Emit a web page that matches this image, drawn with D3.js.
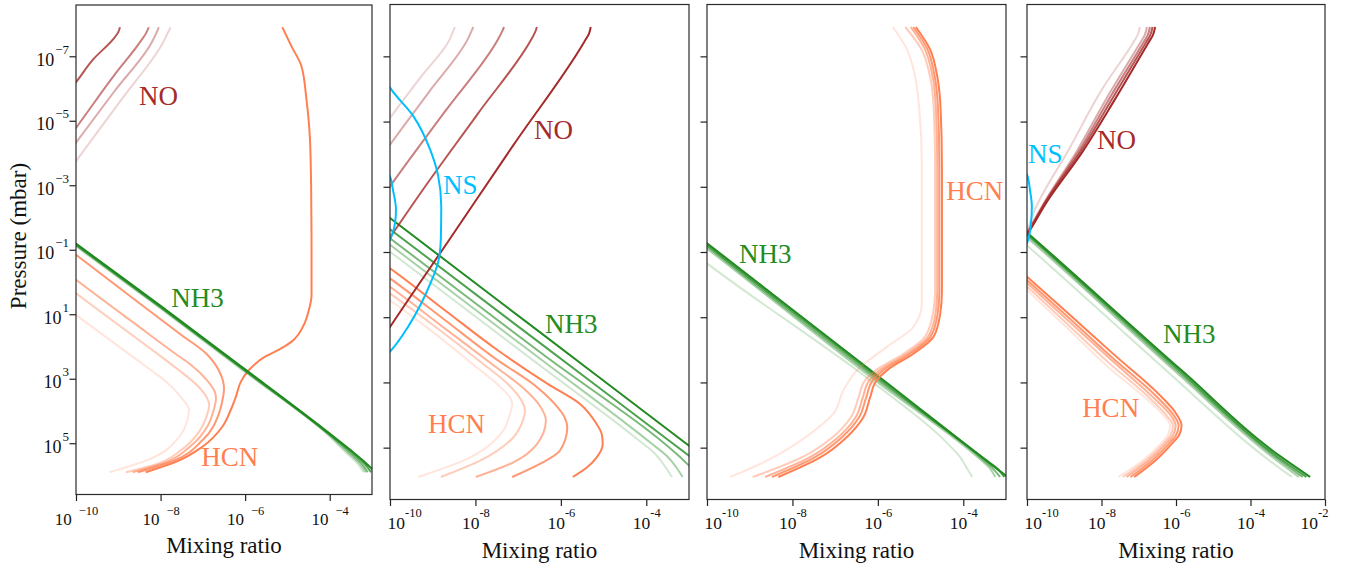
<!DOCTYPE html>
<html>
<head>
<meta charset="utf-8">
<script src="https://cdn.jsdelivr.net/npm/d3@7"></script>
<style>
    body { margin: 0; background: #fff; }
    svg { display: block; }
    text { font-family: "Liberation Serif", "Times New Roman", serif; }
</style>
</head>
<body>
<div id="chart"></div>
<script>
// every point is [log10 mixing ratio, log10 pressure in mbar]

var xTicksA = [1e-10, 1e-8, 1e-6, 1e-4];
var xTicksB = [1e-10, 1e-8, 1e-6, 1e-4, 1e-2];
var yTicks = [1e-7, 1e-5, 1e-3, 1e-1, 1e1, 1e3, 1e5];

var colors = { NO: "#a52a2a", HCN: "#ff7f50", NH3: "#228b22", NS: "#00bfff" };

// ---- panel 1
var p1NO = [
    [[-8.96,-7.9],[-9.0,-7.75],[-9.12,-7.53],[-9.59,-6.91],[-9.98,-6.23],[-10.5,-5.4]],
    [[-8.28,-7.9],[-8.33,-7.75],[-8.49,-7.43],[-9.05,-6.49],[-10,-4.78],[-10.5,-3.9]],
    [[-8.04,-7.9],[-8.09,-7.75],[-8.21,-7.43],[-9.1,-5.9],[-10,-4.32],[-10.5,-3.45]],
    [[-7.76,-7.9],[-7.82,-7.75],[-7.94,-7.43],[-8.9,-5.7],[-10,-3.75],[-10.5,-2.85]]
];
var p1NOAlpha = [0.8, 0.6, 0.4, 0.2];

var p1HCN = [
    [[-5.12,-7.9],[-4.9,-7.3],[-4.67,-6.7],[-4.55,-5.66],[-4.47,-4.5],[-4.44,-3],[-4.43,-1],[-4.43,0.4],
     [-4.5,0.9],[-4.62,1.35],[-4.9,1.85],[-5.2,2.1],[-5.51,2.3],[-5.91,2.73],[-6.1,3.09],[-6.22,3.56],
     [-6.34,3.97],[-6.54,4.49],[-7.01,5.11],[-7.64,5.58],[-8.35,5.9]],
    [[-10.4,-1.25],[-10,-0.845],[-8.5,0.66],[-7.5,1.65],[-6.93,2.21],[-6.6,2.8],[-6.5,3.3],[-6.55,3.75],[-6.62,4.08],[-7.01,4.91],[-7.7,5.55],[-8.54,5.9]],
    [[-10.4,-0.47],[-10,-0.07],[-8.6,1.3],[-7.6,2.27],[-7.3,2.55],[-6.9,3.05],[-6.72,3.4],[-6.69,3.6],[-6.75,4.0],[-6.88,4.45],[-7.3,5.1],[-7.9,5.6],[-8.66,5.9]],
    [[-10.4,-0.05],[-10,0.35],[-8.8,1.52],[-7.9,2.4],[-7.6,2.7],[-7.1,3.25],[-6.9,3.6],[-6.85,3.8],[-6.92,4.2],[-7.09,4.65],[-7.5,5.2],[-8.1,5.65],[-8.82,5.9]],
    [[-10.4,0.62],[-10,1.02],[-9,1.99],[-8.2,2.76],[-7.95,3.0],[-7.5,3.6],[-7.33,3.95],[-7.38,4.35],[-7.56,4.8],[-8.27,5.5],[-9.21,5.9]]
];
var p1HCNAlpha = [1, 0.8, 0.6, 0.4, 0.2];

var p1NH3 = [
    [[-10.4,-1.58],[-10,-1.19],[-8,0.74],[-6,2.71],[-4,4.7],[-3.5,5.22],[-3.2,5.55],[-2.95,5.86]],
    [[-10.4,-1.56],[-10,-1.17],[-8,0.76],[-6,2.73],[-4,4.72],[-3.5,5.25],[-3.2,5.6],[-3.02,5.9]],
    [[-10.4,-1.54],[-10,-1.15],[-8,0.78],[-6,2.75],[-4,4.74],[-3.55,5.25],[-3.25,5.62],[-3.1,5.9]],
    [[-10.4,-1.52],[-10,-1.13],[-8,0.8],[-6,2.77],[-4,4.76],[-3.6,5.25],[-3.3,5.62],[-3.15,5.9]],
    [[-10.4,-1.49],[-10,-1.1],[-8,0.83],[-6,2.8],[-4,4.79],[-3.65,5.25],[-3.35,5.62],[-3.2,5.9]]
];
var p1NH3Alpha = [1, 0.8, 0.6, 0.4, 0.2];

var p1Labels = [["NO", -8.51, -5.49], ["NH3", -7.75, 0.77], ["HCN", -7.04, 5.70]];

// ---- panel 2
var p2NO = [
    [[-5.30,-7.9],[-5.34,-7.7],[-5.45,-7.45],[-7.1,-4.3],[-8.6,-1.4],[-10,1.3],[-10.4,2.1]],
    [[-6.56,-7.9],[-6.6,-7.75],[-6.68,-7.55],[-7.95,-5.23],[-9.23,-2.91],[-10,-1.45],[-10.4,-0.7]],
    [[-7.33,-7.9],[-7.38,-7.75],[-7.46,-7.55],[-8.73,-5.28],[-10,-3.01],[-10.4,-2.25]],
    [[-8.05,-7.9],[-8.1,-7.75],[-8.17,-7.55],[-9.08,-5.92],[-10,-4.29],[-10.4,-3.55]],
    [[-8.48,-7.9],[-8.53,-7.75],[-8.59,-7.55],[-9.3,-6.33],[-10,-5.11],[-10.4,-4.35]]
];
var p2NOAlpha = [1, 0.8, 0.6, 0.4, 0.2];

var p2NS = [
    [[-10.15,-6.4],[-10,-6.04],[-9.45,-5.16],[-9.06,-4.14],[-8.87,-3.32],[-8.8,-2.4],[-8.81,-1.4],
     [-8.87,-0.7],[-9.05,-0.05],[-9.27,0.58],[-9.58,1.3],[-9.93,1.95],[-10.1,2.2]],
    [[-10.1,-3.55],[-10,-3.32],[-9.93,-2.9],[-9.86,-2.3],[-9.88,-1.9],[-10,-1.37],[-10.1,-1.15]]
];
var p2NSAlpha = [1, 1];

var p2NH3 = [
    [[-10.4,-2.44],[-10,-2.04],[-6.5,1.45],[-3,4.94],[-2.8,5.14]],
    [[-10.4,-2.1],[-10,-1.7],[-6.5,1.78],[-3,5.25],[-2.8,5.45]],
    [[-10.4,-1.82],[-10,-1.42],[-6.5,2.06],[-3,5.55],[-2.85,5.75]],
    [[-10.4,-1.62],[-10,-1.22],[-6.5,2.26],[-3.9,4.85],[-3.5,5.28],[-3.3,5.6],[-3.15,5.9]],
    [[-10.4,-1.41],[-10,-1.01],[-6.5,2.47],[-4.2,4.75],[-3.8,5.18],[-3.55,5.6],[-3.4,5.9]]
];
var p2NH3Alpha = [1, 0.8, 0.6, 0.4, 0.2];

var p2HCN = [
    [[-10.4,-0.87],[-10,-0.5],[-8.7,0.8],[-7.47,2.02],[-6.3,3.05],[-5.55,3.66],[-5.2,4.2],[-5.04,4.6],[-5.02,4.89],[-5.16,5.3],[-5.39,5.61],[-5.72,5.9]],
    [[-10.4,-0.56],[-10,-0.19],[-8.7,1.1],[-7.5,2.3],[-6.6,3.1],[-6.15,3.65],[-5.92,4.05],[-5.85,4.38],[-6.02,5.09],[-6.49,5.5],[-7.14,5.9]],
    [[-10.4,-0.3],[-10,0.07],[-8.8,1.26],[-7.6,2.45],[-6.9,3.15],[-6.5,3.7],[-6.35,4.17],[-6.56,4.89],[-7.11,5.45],[-7.99,5.9]],
    [[-10.4,-0.1],[-10,0.27],[-8.9,1.33],[-7.9,2.35],[-7.2,3.1],[-6.9,3.6],[-6.84,3.86],[-6.9,4.2],[-7.11,4.68],[-7.89,5.4],[-8.81,5.9]],
    [[-10.4,0.11],[-10,0.48],[-9.0,1.45],[-8.1,2.4],[-7.45,3.1],[-7.2,3.45],[-7.14,3.66],[-7.2,4.0],[-7.35,4.48],[-8.28,5.4],[-9.34,5.9]]
];
var p2HCNAlpha = [1, 0.8, 0.6, 0.4, 0.2];

var p2Labels = [["NO", -6.63, -4.47], ["NS", -8.76, -2.78], ["NH3", -6.37, 1.48], ["HCN", -9.11, 4.55]];

// ---- panel 3
var p3NH3 = [
    [[-10.4,-1.68],[-10,-1.27],[-5.86,2.94],[-3,5.86],[-2.9,5.96]],
    [[-10.4,-1.63],[-10,-1.22],[-5.9,2.96],[-3.5,5.35],[-3.2,5.65],[-3.04,5.9]],
    [[-10.4,-1.58],[-10,-1.17],[-5.95,2.98],[-3.6,5.3],[-3.3,5.65],[-3.14,5.9]],
    [[-10.4,-1.5],[-10,-1.1],[-6.0,3.0],[-3.7,5.25],[-3.4,5.6],[-3.25,5.9]],
    [[-10.4,-1.05],[-10,-0.65],[-6.02,3.09],[-4.5,4.7],[-4.07,5.3],[-3.88,5.71],[-3.79,5.9]]
];
var p3NH3Alpha = [1, 0.8, 0.6, 0.4, 0.2];

var p3HCN = [
    [[-5.11,-7.9],[-4.78,-7.22],[-4.61,-6.39],[-4.53,-5.37],[-4.5,-3.63],[-4.5,0.2],[-4.54,0.89],[-4.7,1.61],
     [-5.17,2.12],[-5.79,2.63],[-6.03,2.94],[-6.18,3.45],[-6.34,4.07],[-6.73,4.68],[-7.35,5.3],[-8.33,5.9]],
    [[-5.17,-7.9],[-4.84,-7.22],[-4.67,-6.39],[-4.59,-5.37],[-4.56,-3.63],[-4.56,0.2],[-4.6,0.89],[-4.77,1.61],
     [-5.25,2.12],[-5.88,2.63],[-6.12,2.94],[-6.27,3.45],[-6.44,4.07],[-6.84,4.68],[-7.48,5.3],[-8.48,5.9]],
    [[-5.23,-7.9],[-4.9,-7.22],[-4.72,-6.39],[-4.64,-5.37],[-4.61,-3.63],[-4.61,0.2],[-4.65,0.89],[-4.83,1.61],
     [-5.32,2.12],[-5.96,2.63],[-6.2,2.94],[-6.35,3.45],[-6.52,4.07],[-6.93,4.68],[-7.6,5.3],[-8.64,5.9]],
    [[-5.36,-7.9],[-4.98,-7.22],[-4.78,-6.39],[-4.69,-5.37],[-4.66,-3.63],[-4.66,0.2],[-4.71,0.89],[-4.9,1.61],
     [-5.4,2.12],[-6.05,2.63],[-6.3,2.94],[-6.45,3.45],[-6.63,4.07],[-7.06,4.68],[-7.78,5.3],[-8.93,5.9]],
    [[-5.65,-7.9],[-5.32,-7.22],[-5.13,-6.39],[-5.03,-5.37],[-4.97,-3.63],[-4.97,0.58],[-5.17,1.3],
     [-5.79,1.91],[-6.49,2.63],[-6.81,3.25],[-7.04,3.96],[-7.59,4.58],[-8.6,5.4],[-9.46,5.9]]
];
var p3HCNAlpha = [1, 0.8, 0.6, 0.4, 0.2];

var p3Labels = [["HCN", -4.40, -2.59], ["NH3", -9.25, -0.66]];

// ---- panel 4
var p4NO = [
    [[-6.56,-7.9],[-6.62,-7.65],[-6.74,-7.42],[-7.64,-5.68],[-8.53,-4.04],[-9.43,-2.6],[-9.97,-1.58],[-10.3,-1.0]],
    [[-6.63,-7.9],[-6.69,-7.65],[-6.81,-7.42],[-7.7,-5.72],[-8.58,-4.05],[-9.46,-2.6],[-9.98,-1.58],[-10.3,-1.0]],
    [[-6.7,-7.9],[-6.76,-7.65],[-6.88,-7.42],[-7.76,-5.76],[-8.62,-4.07],[-9.49,-2.58],[-9.98,-1.6],[-10.3,-1.0]],
    [[-6.78,-7.9],[-6.84,-7.65],[-6.96,-7.42],[-7.82,-5.8],[-8.66,-4.1],[-9.52,-2.55],[-9.99,-1.62],[-10.3,-1.0]],
    [[-6.97,-7.9],[-7.03,-7.65],[-7.15,-7.42],[-7.99,-5.98],[-8.85,-4.2],[-9.83,-2.19],[-10.0,-1.65],[-10.3,-1.0]]
];
var p4NOAlpha = [1, 0.8, 0.6, 0.4, 0.2];

var p4NS = [
    [[-10.1,-3.6],[-10,-3.37],[-9.92,-2.9],[-9.87,-2.39],[-9.9,-1.8],[-10,-1.27],[-10.1,-1.05]]
];
var p4NSAlpha = [1];

var p4NH3 = [
    [[-10.3,-1.9],[-10,-1.6],[-5.85,2.63],[-3.16,5.3],[-2.4,5.9]],
    [[-10.3,-1.86],[-10,-1.56],[-5.9,2.64],[-3.25,5.3],[-2.5,5.9]],
    [[-10.3,-1.82],[-10,-1.52],[-5.95,2.66],[-3.32,5.3],[-2.6,5.9]],
    [[-10.3,-1.75],[-10,-1.45],[-6.0,2.68],[-3.4,5.3],[-2.7,5.9]],
    [[-10.3,-1.5],[-10,-1.2],[-6.1,2.8],[-3.6,5.3],[-2.89,5.9]]
];
var p4NH3Alpha = [1, 0.8, 0.6, 0.4, 0.2];

var p4HCN = [
    [[-10.3,-0.55],[-10,-0.24],[-8.8,0.98],[-7.64,2.17],[-6.47,3.35],[-6.0,3.95],[-5.85,4.32],[-5.92,4.62],[-6.12,4.89],[-6.56,5.4],[-7.12,5.9]],
    [[-10.3,-0.45],[-10,-0.14],[-8.85,1.05],[-7.7,2.25],[-6.55,3.4],[-6.08,3.98],[-5.93,4.32],[-6.0,4.62],[-6.2,4.89],[-6.65,5.4],[-7.22,5.9]],
    [[-10.3,-0.36],[-10,-0.05],[-8.88,1.12],[-7.75,2.3],[-6.62,3.45],[-6.15,4.0],[-6.01,4.32],[-6.08,4.62],[-6.28,4.89],[-6.74,5.4],[-7.33,5.9]],
    [[-10.3,-0.25],[-10,0.06],[-8.9,1.23],[-7.8,2.4],[-6.69,3.5],[-6.23,4.05],[-6.08,4.32],[-6.15,4.62],[-6.35,4.89],[-6.82,5.4],[-7.43,5.9]],
    [[-10.3,-0.15],[-10,0.17],[-8.92,1.33],[-7.85,2.5],[-6.75,3.55],[-6.3,4.05],[-6.16,4.32],[-6.22,4.62],[-6.42,4.89],[-6.9,5.4],[-7.55,5.9]]
];
var p4HCNAlpha = [1, 0.8, 0.6, 0.4, 0.2];

var p4Labels = [["NS", -9.97, -3.73], ["NO", -8.12, -4.16], ["NH3", -6.35, 1.79], ["HCN", -8.52, 4.06]];

function pow10(v) { return Math.pow(10, v); }

function init() {
    var w = 1352;
    var h = 567;

    var svg = d3.select("#chart")
        .append("svg")
        .attr("width", w)
        .attr("height", h);

    var panels = [
        { left: 76, top: 5, width: 296, height: 489.5, xMax: 1e-3, xTicks: xTicksA, first: true, xLabelY: 553,
          series: [["HCN", p1HCN, p1HCNAlpha], ["NH3", p1NH3, p1NH3Alpha], ["NO", p1NO, p1NOAlpha]],
          labels: p1Labels },
        { left: 390, top: 4.5, width: 299, height: 495, xMax: 1e-3, xTicks: xTicksA, first: false, xLabelY: 558,
          series: [["HCN", p2HCN, p2HCNAlpha], ["NH3", p2NH3, p2NH3Alpha], ["NO", p2NO, p2NOAlpha], ["NS", p2NS, p2NSAlpha]],
          labels: p2Labels },
        { left: 707, top: 4.5, width: 299, height: 495, xMax: 1e-3, xTicks: xTicksA, first: false, xLabelY: 558,
          series: [["NH3", p3NH3, p3NH3Alpha], ["HCN", p3HCN, p3HCNAlpha]],
          labels: p3Labels },
        { left: 1027, top: 4.5, width: 298, height: 495, xMax: 1e-2, xTicks: xTicksB, first: false, xLabelY: 558,
          series: [["HCN", p4HCN, p4HCNAlpha], ["NH3", p4NH3, p4NH3Alpha], ["NO", p4NO, p4NOAlpha], ["NS", p4NS, p4NSAlpha]],
          labels: p4Labels }
    ];

    panels.forEach(function(p, pi) {
        var xScale = d3.scaleLog()
            .domain([1e-10, p.xMax])
            .range([0, p.width]);

        var yScale = d3.scaleLog()
            .domain([pow10(-8.59), pow10(6.59)])
            .range([0, p.height]);

        var g = svg.append("g")
            .attr("transform", "translate(" + p.left + "," + p.top + ")");

        g.append("clipPath")
            .attr("id", "clip" + pi)
            .append("rect")
            .attr("width", p.width)
            .attr("height", p.height);

        var line = d3.line()
            .x(function(d) { return xScale(pow10(d[0])); })
            .y(function(d) { return yScale(pow10(d[1])); })
            .curve(d3.curveMonotoneY);

        var plot = g.append("g").attr("clip-path", "url(#clip" + pi + ")");

        p.series.forEach(function(s) {
            plot.append("g")
                .selectAll("path")
                .data(s[1])
                .enter()
                .append("path")
                .attr("d", line)
                .attr("fill", "none")
                .attr("stroke", colors[s[0]])
                .attr("stroke-opacity", function(d, i) { return s[2][i]; })
                .attr("stroke-width", 2);
        });

        g.selectAll("text.species")
            .data(p.labels)
            .enter()
            .append("text")
            .attr("class", "species")
            .attr("x", function(d) { return xScale(pow10(d[1])); })
            .attr("y", function(d) { return yScale(pow10(d[2])); })
            .attr("fill", function(d) { return colors[d[0]]; })
            .attr("font-size", 27)
            .text(function(d) { return d[0]; });

        // x axis
        var xAxis = g.append("g")
            .attr("transform", "translate(0," + p.height + ")")
            .call(d3.axisBottom(xScale).tickValues(p.xTicks).tickSize(6.5));

        xAxis.select(".domain").remove();
        xAxis.selectAll(".tick line").attr("stroke", "#222").attr("stroke-width", 1.2);
        xAxis.selectAll(".tick text").each(function(d, i) {
            var t = d3.select(this);
            var e = Math.round(Math.log10(d));
            t.text(null).attr("fill", "#111").attr("dy", null);
            if (p.first) {
                t.attr("y", 30.5).attr("font-size", 17);
                t.append("tspan").text("10");
                t.append("tspan").attr("dx", 7).attr("dy", -10).attr("font-size", 12.5)
                    .text((e < 0 ? "\u2212" : "") + Math.abs(e));
            } else {
                t.attr("y", 29).attr("font-size", 17.5);
                t.append("tspan").text("10");
                t.append("tspan").attr("dy", -12).attr("font-size", 12.5)
                    .text((e < 0 ? "-" : "") + Math.abs(e));
                if (i === 0) t.attr("text-anchor", "start").attr("x", -3);
                if (i === p.xTicks.length - 1 && p.xMax === 1e-2) t.attr("text-anchor", "end").attr("x", 3);
            }
        });

        // y axis
        var yAxis = g.append("g")
            .call(d3.axisLeft(yScale).tickValues(yTicks).tickSize(6.5));

        yAxis.select(".domain").remove();
        yAxis.selectAll(".tick line").attr("stroke", "#222").attr("stroke-width", 1.2);
        if (p.first) {
            yAxis.selectAll(".tick text").each(function(d) {
                var t = d3.select(this);
                var e = Math.round(Math.log10(d));
                t.text(null).attr("fill", "#111").attr("dy", null)
                    .attr("x", -7).attr("y", 9).attr("font-size", 18);
                t.append("tspan").text("10");
                t.append("tspan").attr("dx", 1).attr("dy", -12).attr("font-size", 13)
                    .text((e < 0 ? "\u2212" : "") + Math.abs(e));
            });
        } else {
            yAxis.selectAll(".tick text").remove();
        }

        g.append("rect")
            .attr("width", p.width)
            .attr("height", p.height)
            .attr("fill", "none")
            .attr("stroke", "#2a2a2a")
            .attr("stroke-width", 1.2);

        svg.append("text")
            .attr("x", p.left + p.width / 2)
            .attr("y", p.xLabelY)
            .attr("text-anchor", "middle")
            .attr("font-size", 23)
            .attr("fill", "#111")
            .text("Mixing ratio");
    });

    svg.append("text")
        .attr("transform", "translate(26,236) rotate(-90)")
        .attr("text-anchor", "middle")
        .attr("font-size", 23)
        .attr("fill", "#111")
        .text("Pressure (mbar)");
}

window.onload = init;
</script>
</body>
</html>
